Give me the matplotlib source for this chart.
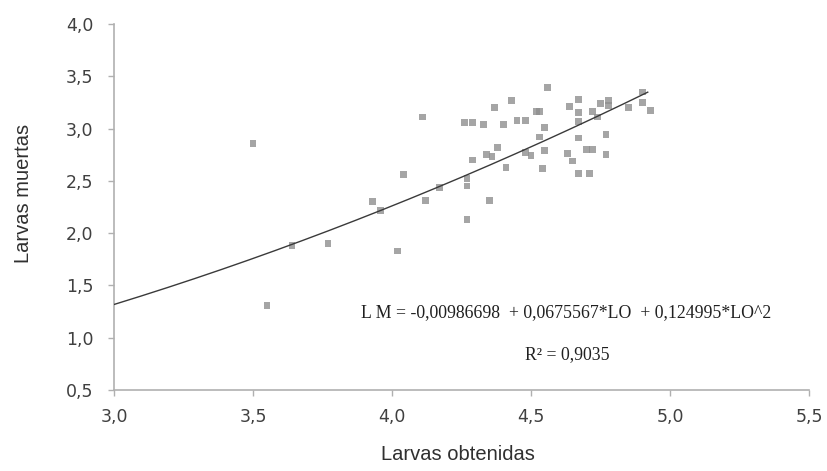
import numpy as np
import matplotlib.pyplot as plt

lo = [3.50, 3.55, 3.64, 3.77, 3.93, 3.96, 4.02, 4.04, 4.11, 4.12, 4.17,
      4.26, 4.29, 4.33, 4.37, 4.40, 4.43, 4.45, 4.48, 4.52, 4.38, 4.34,
      4.36, 4.29, 4.41, 4.48, 4.27, 4.27, 4.35, 4.27, 4.56, 4.53, 4.67,
      4.64, 4.67, 4.67, 4.72, 4.74, 4.75, 4.78, 4.78, 4.85, 4.90, 4.90,
      4.93, 4.55, 4.53, 4.55, 4.50, 4.54, 4.67, 4.63, 4.65, 4.70, 4.72,
      4.77, 4.77, 4.67, 4.71]
lm = [2.86, 1.31, 1.88, 1.90, 2.30, 2.22, 1.83, 2.56, 3.11, 2.31, 2.44,
      3.06, 3.06, 3.04, 3.20, 3.04, 3.27, 3.08, 3.08, 3.16, 2.82, 2.75,
      2.73, 2.70, 2.63, 2.77, 2.45, 2.52, 2.31, 2.13, 3.39, 3.16, 3.28,
      3.21, 3.07, 3.15, 3.16, 3.11, 3.24, 3.27, 3.22, 3.20, 3.25, 3.35,
      3.17, 3.01, 2.92, 2.79, 2.74, 2.62, 2.91, 2.76, 2.69, 2.80, 2.80,
      2.94, 2.75, 2.57, 2.57]

# quadratic fit coefficients given in the chart
coef = [-0.00986698, 0.0675567, 0.124995]
r2 = 0.9035

x_ticks = [3.0, 3.5, 4.0, 4.5, 5.0, 5.5]
y_ticks = [0.5, 1.0, 1.5, 2.0, 2.5, 3.0, 3.5, 4.0]


def fmt(v):
    return "{:.1f}".format(v).replace(".", ",")


fig = plt.figure(figsize=(8.28, 4.71), dpi=100)
ax = fig.add_axes([0.1377, 0.172, 0.8393, 0.777])

ax.scatter(lo, lm, marker="s", s=24, color="#8f8f8f", alpha=0.8,
           edgecolors="none", zorder=2)

xf = np.linspace(3.0, 4.92, 200)
yf = coef[0] + coef[1] * xf + coef[2] * xf ** 2
ax.plot(xf, yf, color="#3a3a3a", lw=1.0, zorder=3)

ax.set_xlim(3.0, 5.5)
ax.set_ylim(0.5, 4.0)
ax.set_xticks(x_ticks)
ax.set_yticks(y_ticks)
ax.set_xticklabels([fmt(v) for v in x_ticks])
ax.set_yticklabels([fmt(v) for v in y_ticks])
ax.tick_params(colors="#b0b0b0", labelcolor="#404040", labelsize=12.5,
               length=4, width=1)
ax.tick_params(axis="x", pad=9)
ax.tick_params(axis="y", pad=11)

for s in ["top", "right"]:
    ax.spines[s].set_visible(False)
for s in ["left", "bottom"]:
    ax.spines[s].set_color("#b0b0b0")
    ax.spines[s].set_linewidth(1.2)

ax.set_xlabel("Larvas obtenidas", family="Liberation Sans", fontsize=14.5,
              color="#303030")
ax.set_ylabel("Larvas muertas", family="Liberation Sans", fontsize=14.5,
              color="#303030")
ax.xaxis.set_label_coords(0.495, -0.150)
ax.yaxis.set_label_coords(-0.1166, 0.538)

eq = "L M = -0,00986698  + 0,0675567*LO  + 0,124995*LO^2"
ax.text(4.626, 1.236, eq, family="Liberation Serif", fontsize=12.8,
        color="#202020", ha="center", va="center")
ax.text(4.63, 0.835, "R² = {}".format(str(r2).replace(".", ",")),
        family="Liberation Serif", fontsize=12.8,
        color="#202020", ha="center", va="center")

fig.savefig("out.png", dpi=100)
